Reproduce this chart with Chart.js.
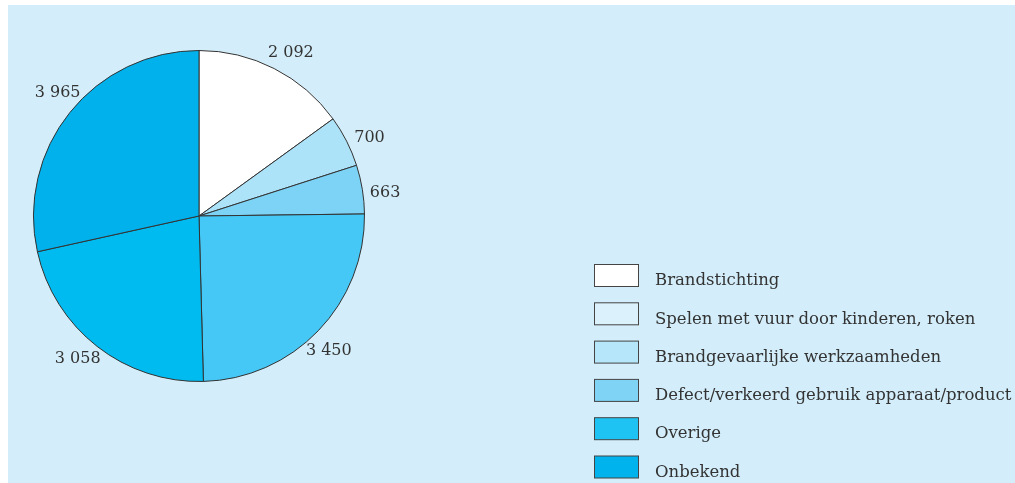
<!DOCTYPE html>
<html>
<head>
<meta charset="utf-8">
<script src="https://cdn.jsdelivr.net/npm/chart.js@4"></script>
<style>
    html, body { margin: 0; padding: 0; background: #ffffff; }
    #wrap { position: relative; width: 1015px; height: 483px; }
</style>
</head>
<body>
<div id="wrap"><canvas id="pieChart" width="1015" height="483"></canvas></div>
<script>
// Data
const categories = ['Brandstichting', 'Spelen met vuur door kinderen, roken', 'Brandgevaarlijke werkzaamheden',
    'Defect/verkeerd gebruik apparaat/product', 'Overige', 'Onbekend'];
const values = [2092, 700, 663, 3450, 3058, 3965];
const valueLabels = ['2 092', '700', '663', '3 450', '3 058', '3 965'];
const sliceColors = ['#ffffff', '#ade3f9', '#7dd3f5', '#45c8f5', '#00bbf0', '#00b1eb'];
const legendColors = ['#ffffff', '#dbf1fb', '#b5e6f9', '#7fd4f5', '#1fc3f3', '#00b3ec'];

const serif = '"DejaVu Serif", "Liberation Serif", serif';

// Panel background
const panelBg = {
    id: 'panelBg',
    beforeDraw(chart) {
        const ctx = chart.ctx;
        ctx.save();
        ctx.fillStyle = '#d3eefa';
        ctx.fillRect(8, 5, chart.width - 8, chart.height - 5);
        ctx.restore();
    }
};

// Value labels outside the slices
const sliceLabels = {
    id: 'sliceLabels',
    afterDatasetsDraw(chart) {
        const ctx = chart.ctx;
        const arcs = chart.getDatasetMeta(0).data;
        ctx.save();
        ctx.font = '16px ' + serif;
        ctx.fillStyle = '#333333';
        ctx.textAlign = 'center';
        ctx.textBaseline = 'middle';
        arcs.forEach((arc, i) => {
            const mid = (arc.startAngle + arc.endAngle) / 2 + 0.04;
            const r = arc.outerRadius + 22;
            ctx.fillText(valueLabels[i], arc.x + Math.cos(mid) * r, arc.y + Math.sin(mid) * r);
        });
        ctx.restore();
    }
};

// Legend drawn at the bottom right
const boxLegend = {
    id: 'boxLegend',
    afterDraw(chart) {
        const ctx = chart.ctx;
        ctx.save();
        ctx.font = '16.5px ' + serif;
        ctx.textBaseline = 'middle';
        categories.forEach((name, i) => {
            const y = 264 + i * 38.3;
            ctx.fillStyle = legendColors[i];
            ctx.fillRect(594.5, y + 0.5, 44, 22);
            ctx.strokeStyle = '#444444';
            ctx.lineWidth = 1;
            ctx.strokeRect(594.5, y + 0.5, 44, 22);
            ctx.fillStyle = '#333333';
            ctx.fillText(name, 655, y + 17);
        });
        ctx.restore();
    }
};

const pieCtx = document.getElementById('pieChart').getContext('2d');
new Chart(pieCtx, {
    type: 'pie',
    data: {
        labels: categories,
        datasets: [
            {
                data: values,
                backgroundColor: sliceColors,
                borderColor: '#333333',
                borderWidth: 1
            }
        ]
    },
    options: {
        responsive: false,
        animation: false,
        layout: {
            padding: { left: 33, top: 50, right: 650, bottom: 101 }
        },
        plugins: {
            legend: { display: false },
            tooltip: { enabled: false }
        }
    },
    plugins: [panelBg, sliceLabels, boxLegend]
});
</script>
</body>
</html>
